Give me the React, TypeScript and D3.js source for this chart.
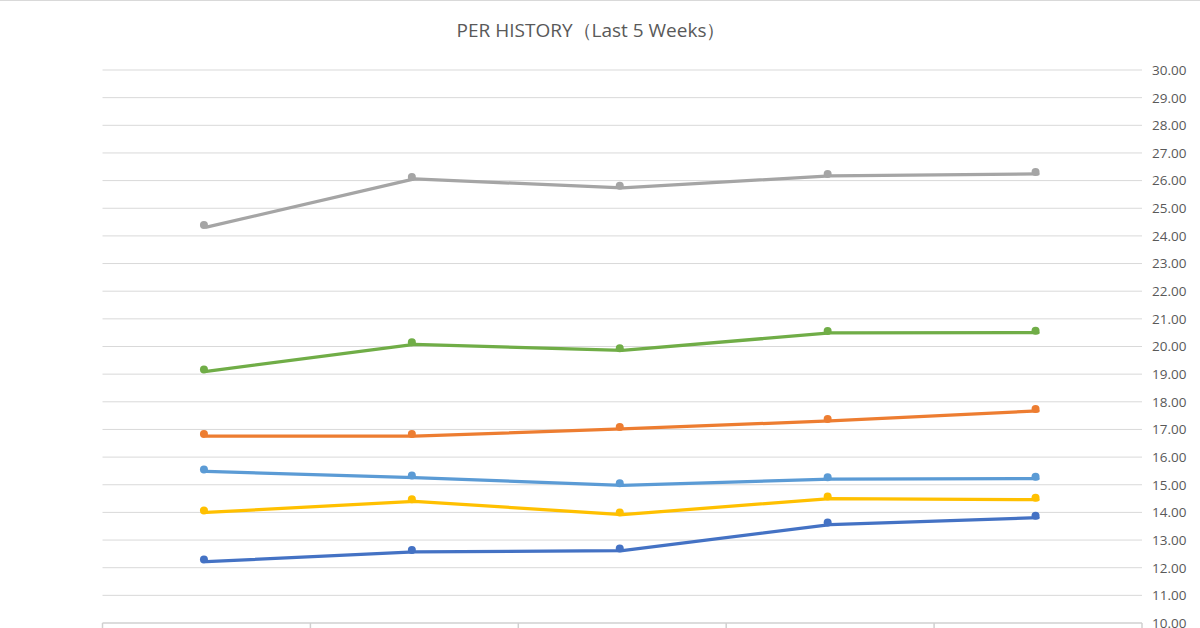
import React from "react";
import * as d3 from "d3";

const categories = ["Week 1", "Week 2", "Week 3", "Week 4", "Week 5"];
const seriesNames = ["Series A", "Series B", "Series C", "Series D", "Series E", "Series F"];
const grayValues = [24.32, 26.06, 25.74, 26.17, 26.24];
const greenValues = [19.1, 20.08, 19.86, 20.49, 20.5];
const orangeValues = [16.76, 16.76, 17.02, 17.31, 17.67];
const lightBlueValues = [15.48, 15.26, 14.98, 15.2, 15.22];
const yellowValues = [14.0, 14.4, 13.92, 14.5, 14.46];
const darkBlueValues = [12.22, 12.57, 12.62, 13.56, 13.81];
const colors = ["#A5A5A5", "#70AD47", "#ED7D31", "#5B9BD5", "#FFC000", "#4472C4"];
const yTicks = d3.range(10, 31, 1);

const allSeries = [grayValues, greenValues, orangeValues, lightBlueValues, yellowValues, darkBlueValues];

export default function App() {
  const W = 1200, H = 628;
  const left = 102.5, right = 1142, top = 70, bottom = 623;
  const x = d3.scaleBand<string>().domain(categories).range([left, right]).paddingInner(0).paddingOuter(0);
  const y = d3.scaleLinear().domain([10, 30]).range([bottom, top]);
  const cx = (c: string) => (x(c) as number) + x.bandwidth() / 2;
  const line = d3.line<number>().x((_, i) => cx(categories[i])).y((v) => y(v));
  const font = "'Open Sans', 'Liberation Sans', sans-serif";
  const boundaries = categories.map((c) => x(c) as number).concat([right]);

  return (
    <svg width={W} height={H} style={{ position: "absolute", left: 0, top: 0, background: "#fff" }}>
      <rect x={0} y={0} width={W} height={H} fill="#fff" />
      <line x1={0} x2={W} y1={0.5} y2={0.5} stroke="#d9d9d9" strokeWidth={1} />
      <text x={591} y={37} textAnchor="middle" fontFamily={font} fontSize={19} fill="#595959">
        PER HISTORY（Last 5 Weeks）
      </text>
      {yTicks.map((t) => (
        <g key={t}>
          <line x1={left} x2={right} y1={y(t)} y2={y(t)} stroke={t === 10 ? "#d0d0d0" : "#d9d9d9"} strokeWidth={t === 10 ? 1.5 : 1} />
          <text x={1152} y={y(t)} dy="0.36em" fontFamily={font} fontSize={13.5} fill="#595959">
            {t.toFixed(2)}
          </text>
        </g>
      ))}
      {boundaries.map((b, i) => (
        <line key={i} x1={b} x2={b} y1={bottom} y2={bottom + 8} stroke="#d0d0d0" strokeWidth={1.5} />
      ))}
      {allSeries.map((vals, si) => (
        <g key={seriesNames[si]}>
          <path d={line(vals) || ""} fill="none" stroke={colors[si]} strokeWidth={3.25} strokeLinejoin="round" strokeLinecap="round" />
          {vals.map((v, i) => (
            <circle key={i} cx={cx(categories[i]) - 2.5} cy={y(v) - 2} r={4} fill={colors[si]} />
          ))}
        </g>
      ))}
    </svg>
  );
}
